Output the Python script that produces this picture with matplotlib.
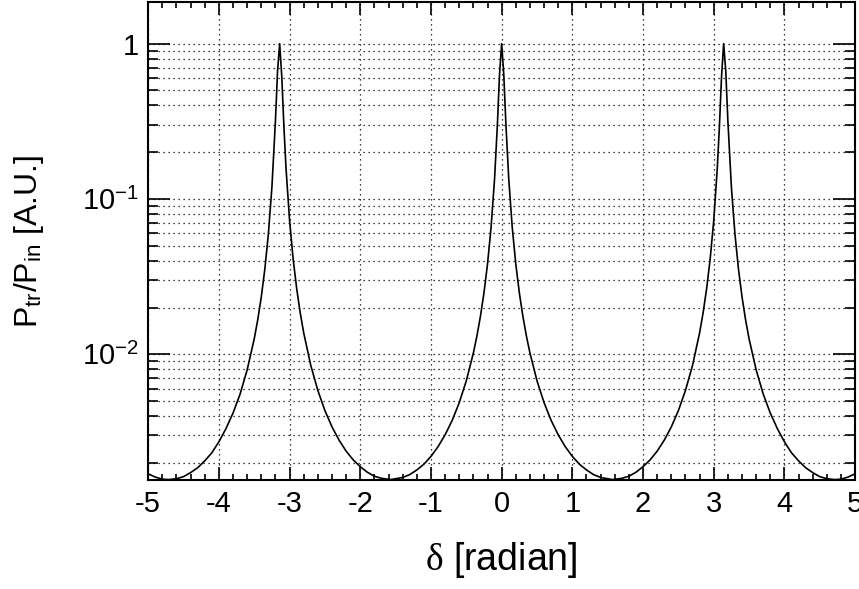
import matplotlib.pyplot as plt
from matplotlib.ticker import LogLocator, NullFormatter, FixedLocator, MultipleLocator

plt.rcParams['font.family'] = ['Liberation Sans', 'DejaVu Sans']
plt.rcParams['mathtext.fontset'] = 'custom'
plt.rcParams['mathtext.rm'] = 'Liberation Serif'
plt.rcParams['mathtext.it'] = 'Liberation Serif:italic'

# phase difference delta [rad] and transmitted/incident power
delta = [-5.0, -4.9, -4.8, -4.71, -4.6, -4.5, -4.4, -4.3, -4.2, -4.1,
         -4.0, -3.9, -3.8, -3.7, -3.6, -3.5, -3.45, -3.4, -3.35, -3.3,
         -3.25, -3.2, -3.17, -3.14, -3.11, -3.08, -3.05, -3.0, -2.95, -2.9,
         -2.85, -2.8, -2.7, -2.6, -2.5, -2.4, -2.3, -2.2, -2.1, -2.0,
         -1.9, -1.8, -1.7, -1.57, -1.4, -1.3, -1.2, -1.1, -1.0, -0.9,
         -0.8, -0.7, -0.6, -0.5, -0.4, -0.35, -0.3, -0.25, -0.2, -0.15,
         -0.1, -0.06, -0.03, 0.0, 0.03, 0.06, 0.1, 0.15, 0.2, 0.25,
         0.3, 0.35, 0.4, 0.5, 0.6, 0.7, 0.8, 0.9, 1.0, 1.1,
         1.2, 1.3, 1.4, 1.57, 1.7, 1.8, 1.9, 2.0, 2.1, 2.2,
         2.3, 2.4, 2.5, 2.6, 2.7, 2.8, 2.85, 2.9, 2.95, 3.0,
         3.05, 3.08, 3.11, 3.14, 3.17, 3.2, 3.25, 3.3, 3.35, 3.4,
         3.45, 3.5, 3.6, 3.7, 3.8, 3.9, 4.0, 4.1, 4.2, 4.3,
         4.4, 4.5, 4.6, 4.71, 4.8, 4.9, 5.0]

p_ratio = [0.00170, 0.00162, 0.00157, 0.00156, 0.00158, 0.00163, 0.00173, 0.00186, 0.00206, 0.00232,
           0.00273, 0.00332, 0.00418, 0.00554, 0.00793, 0.01256, 0.0167, 0.0234, 0.0353, 0.0594,
           0.1185, 0.317, 0.666, 1.0, 0.610, 0.292, 0.157, 0.0728, 0.0413, 0.0266,
           0.01855, 0.01373, 0.00848, 0.00585, 0.00434, 0.00341, 0.00280, 0.00238, 0.00209, 0.00189,
           0.00174, 0.00164, 0.00159, 0.00156, 0.00161, 0.00168, 0.00180, 0.00196, 0.00220, 0.00254,
           0.00303, 0.00375, 0.00488, 0.00675, 0.0102, 0.01311, 0.01758, 0.0249, 0.0381, 0.0654,
           0.1355, 0.303, 0.634, 1.0, 0.634, 0.303, 0.1355, 0.0654, 0.0381, 0.0249,
           0.01758, 0.01311, 0.0102, 0.00675, 0.00488, 0.00375, 0.00303, 0.00254, 0.00220, 0.00196,
           0.00180, 0.00168, 0.00161, 0.00156, 0.00159, 0.00164, 0.00174, 0.00189, 0.00209, 0.00238,
           0.00280, 0.00341, 0.00434, 0.00585, 0.00848, 0.01373, 0.01855, 0.0266, 0.0413, 0.0728,
           0.157, 0.292, 0.610, 1.0, 0.666, 0.317, 0.1185, 0.0594, 0.0353, 0.0234,
           0.0167, 0.01256, 0.00793, 0.00554, 0.00418, 0.00332, 0.00273, 0.00232, 0.00206, 0.00186,
           0.00173, 0.00163, 0.00158, 0.00156, 0.00157, 0.00162, 0.00170]

x_ticks = [-5, -4, -3, -2, -1, 0, 1, 2, 3, 4, 5]
y_ticks = [1e-2, 1e-1, 1]
y_labels = [r'10$^{\mathregular{-2}}$', r'10$^{\mathregular{-1}}$', '1']

fig = plt.figure(figsize=(8.59, 5.89), dpi=100)
ax = fig.add_axes([0.1725, 0.185, 0.823, 0.812])

ax.plot(delta, p_ratio, color='black', linewidth=1.2)

ax.set_yscale('log')
ax.set_xlim(-5, 5)
ax.set_ylim(0.00155, 1.86)

ax.xaxis.set_major_locator(FixedLocator(x_ticks))
ax.xaxis.set_minor_locator(MultipleLocator(0.2))
ax.set_xticklabels([str(t) for t in x_ticks])
ax.yaxis.set_major_locator(FixedLocator(y_ticks))
ax.set_yticklabels(y_labels)
ax.yaxis.set_minor_locator(LogLocator(base=10, subs=range(2, 10), numticks=20))
ax.yaxis.set_minor_formatter(NullFormatter())

ax.tick_params(which='both', direction='in', top=True, right=True, width=1.2,
               labelsize=21, pad=7)
ax.tick_params(axis='x', which='major', length=9.5)
ax.tick_params(axis='x', which='minor', length=4.5)
ax.tick_params(axis='y', which='major', length=16)
ax.tick_params(axis='y', which='minor', length=7.5)

ax.grid(True, which='major', axis='x', color='black', linestyle=(0, (1, 3)), linewidth=0.9)
ax.grid(True, which='both', axis='y', color='black', linestyle=(0, (1, 3)), linewidth=0.9)

for s in ax.spines.values():
    s.set_linewidth(1.5)

ax.set_xlabel(r'$\mathrm{\delta}$ [radian]', fontsize=27, labelpad=16)
ax.set_ylabel(r'P$_{\mathregular{tr}}$/P$_{\mathregular{in}}$ [A.U.]', fontsize=23, labelpad=26)

fig.savefig('out.png', dpi=100)
